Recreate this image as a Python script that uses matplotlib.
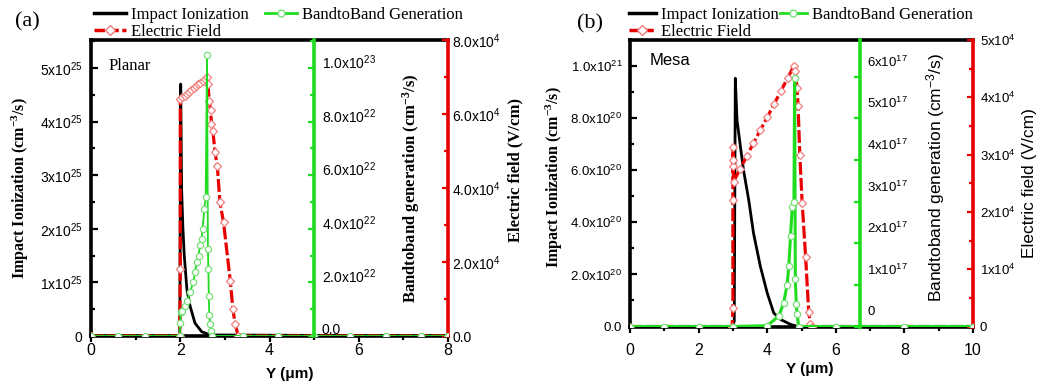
import numpy as np
import matplotlib
matplotlib.use("Agg")
import matplotlib.pyplot as plt
import matplotlib.transforms as mtransforms
from matplotlib.ticker import MultipleLocator
from matplotlib.lines import Line2D

plt.rcParams['mathtext.default'] = 'regular'
SERIF = 'Liberation Serif'
SANS = 'Liberation Sans'

GREEN = '#1fdc1f'
RED = '#e80000'
GREEN_MK = '#77e077'
RED_MK = '#f08080'

# ── Panel (a): Planar ────────────────────────────────────────────────────────
ii_a_x = [0, 1.99, 2.01, 2.03, 2.06, 2.09, 2.15, 2.22, 2.33, 2.48, 2.67, 8]
ii_a_y = np.array([0, 0, 4.7, 2.75, 2.0, 1.5, 0.86, 0.56, 0.24, 0.08, 0.02, 0]) * 1e25

btb_a_x = [0, 0.6, 1.2, 1.99, 2.0, 2.01, 2.03, 2.11, 2.15, 2.22, 2.29, 2.33, 2.37, 2.41,
           2.44, 2.48, 2.5, 2.54, 2.57, 2.6, 2.62, 2.63, 2.64, 2.65, 2.67, 2.69, 2.72,
           3.4, 4.2, 5.0, 5.8, 6.6, 7.4, 8.0]
btb_a_y = np.array([0, 0, 0, 0, 0.5, 0.9, 0.95, 1.13, 1.32, 1.63, 2.0, 2.38, 2.75, 3.0,
                    3.38, 3.63, 4.0, 4.75, 5.18, 10.5, 3.25, 2.5, 1.5, 0.8, 0.45, 0.2, 0.0,
                    0, 0, 0, 0, 0, 0, 0]) * 1e22

ef_a_x = [0, 1.99, 2.0, 2.0, 2.05, 2.1, 2.15, 2.2, 2.25, 2.3, 2.35, 2.4, 2.45, 2.5,
          2.55, 2.6, 2.62, 2.65, 2.68, 2.7, 2.73, 2.78, 2.83, 2.89, 2.97, 3.12, 3.18, 3.23,
          3.3, 8.0]
ef_a_y = np.array([0, 0, 1.81, 6.4, 6.45, 6.5, 6.55, 6.6, 6.65, 6.7, 6.75, 6.8, 6.85,
                   6.9, 6.95, 7.0, 6.81, 6.36, 6.1, 5.73, 5.55, 4.96, 4.6, 3.61, 3.07, 1.5,
                   0.73, 0.32, 0, 0]) * 1e4

# ── Panel (b): Mesa ──────────────────────────────────────────────────────────
ii_b_x = [0, 2.98, 3.04, 3.07, 3.12, 3.22, 3.31, 3.46, 3.6, 3.8, 4.0, 4.19, 4.39, 4.68, 4.9, 10]
ii_b_y = np.array([0, 0, 0.2, 9.53, 7.93, 6.9, 6.0, 4.87, 3.59, 2.31, 1.29, 0.52, 0.27,
                   0.08, 0, 0]) * 1e20

btb_b_x = [0, 1.0, 2.0, 3.0, 4.0, 4.34, 4.48, 4.58, 4.63, 4.68, 4.73, 4.78, 4.8, 4.82,
           4.85, 4.87, 4.92, 6.0, 8.0, 10.0]
btb_b_y = np.array([0, 0, 0, 0, 0.02, 0.25, 0.57, 1.0, 1.45, 2.17, 2.88, 3.0, 5.96, 1.13,
                    0.53, 0.3, 0, 0, 0, 0]) * 1e17

ef_b_x = [0, 2.98, 3.0, 3.0, 3.0, 3.0, 3.0, 3.02, 3.2, 3.4, 3.6, 3.8, 4.0, 4.2,
          4.4, 4.6, 4.78, 4.82, 4.87, 4.9, 4.95, 5.02, 5.12, 5.21, 5.26, 5.3, 10.0]
ef_b_y = np.array([0, 0, 0.32, 2.2, 2.8, 2.9, 3.13, 2.53, 2.74, 2.97, 3.2, 3.43,
                   3.65, 3.88, 4.11, 4.34, 4.55, 4.46, 4.17, 3.85, 3.0, 2.15, 1.22, 0.25,
                   0.05, 0, 0]) * 1e4

# ── Tick labels ──────────────────────────────────────────────────────────────
a_left_ticks = np.array([0, 1, 2, 3, 4, 5]) * 1e25
a_left_labels = ['0', '1x10$^{25}$', '2x10$^{25}$', '3x10$^{25}$', '4x10$^{25}$', '5x10$^{25}$']
a_green_ticks = np.array([0, 2, 4, 6, 8, 10]) * 1e22
a_green_labels = ['0.0', '2.0x10$^{22}$', '4.0x10$^{22}$', '6.0x10$^{22}$',
                  '8.0x10$^{22}$', '1.0x10$^{23}$']
a_red_ticks = np.array([0, 2, 4, 6, 8]) * 1e4
a_red_labels = ['0.0', '2.0x10$^4$', '4.0x10$^4$', '6.0x10$^4$', '8.0x10$^4$']

b_left_ticks = np.array([0, 2, 4, 6, 8, 10]) * 1e20
b_left_labels = ['0.0', '2.0x10$^{20}$', '4.0x10$^{20}$', '6.0x10$^{20}$',
                 '8.0x10$^{20}$', '1.0x10$^{21}$']
b_green_ticks = np.array([0, 1, 2, 3, 4, 5, 6]) * 1e17
b_green_labels = ['0', '1x10$^{17}$', '2x10$^{17}$', '3x10$^{17}$', '4x10$^{17}$',
                  '5x10$^{17}$', '6x10$^{17}$']
b_red_ticks = np.array([0, 1, 2, 3, 4, 5]) * 1e4
b_red_labels = ['0', '1x10$^4$', '2x10$^4$', '3x10$^4$', '4x10$^4$', '5x10$^4$']


def style_twin(tw, color, pos, size, pad):
    for s in ('left', 'top', 'bottom'):
        tw.spines[s].set_visible(False)
    tw.spines['right'].set_position(('axes', pos))
    tw.spines['right'].set_color(color)
    tw.spines['right'].set_linewidth(2.6)
    tw.tick_params(axis='y', which='both', direction='in', color=color,
                   labelcolor='black', labelsize=size, pad=pad, width=1.6)
    tw.tick_params(axis='y', which='major', length=4)
    tw.tick_params(axis='y', which='minor', length=3)
    for lab in tw.get_yticklabels():
        lab.set_family(SANS)


def shift_labels(fig, tw, dy_px):
    off = mtransforms.ScaledTranslation(0, dy_px / fig.dpi, fig.dpi_scale_trans)
    for t in tw.yaxis.get_major_ticks():
        t.label2.set_transform(t.label2.get_transform() + off)


def panel(fig, rect, xmax, green_pos, d, fonts):
    ax = fig.add_axes(rect)
    r = ax.twinx()
    g = ax.twinx()
    for s in ('left', 'bottom', 'top'):
        ax.spines[s].set_linewidth(2.6)
    ax.spines['right'].set_visible(False)

    ax.plot(d['ii_x'], d['ii_y'], color='black', lw=2.0, zorder=3)
    r.plot(d['ef_x'], d['ef_y'], color=RED, lw=2.3, dashes=(4, 1), marker='D', ms=4.5,
           mfc='white', mec=RED_MK, mew=0.9)
    g.plot(d['btb_x'], d['btb_y'], color=GREEN, lw=d['glw'], marker='o', ms=4.5,
           mfc='white', mec=GREEN_MK, mew=0.9)

    ax.set_xlim(0, xmax)
    ax.set_ylim(0, d['ymax'])
    g.set_ylim(0, d['gmax'])
    r.set_ylim(0, d['rmax'])

    ax.set_xticks(range(0, xmax + 1, 2))
    ax.xaxis.set_minor_locator(MultipleLocator(1))
    ax.tick_params(axis='x', which='both', direction='out', width=1.6,
                   labelsize=11.5, pad=d['xpad'])
    ax.tick_params(axis='x', which='major', length=4)
    ax.tick_params(axis='x', which='minor', length=3)
    ax.set_yticks(d['lt'], d['ll'])
    ax.yaxis.set_minor_locator(MultipleLocator(d['lt'][1] / 2))
    ax.tick_params(axis='y', which='both', direction='in', width=1.6,
                   labelsize=d['tsize'], pad=d['lpad'])
    ax.tick_params(axis='y', which='major', length=5)
    ax.tick_params(axis='y', which='minor', length=3)
    for lab in ax.get_xticklabels() + ax.get_yticklabels():
        lab.set_family(SANS)

    g.set_yticks(d['gt'], d['gl'])
    if d['gminor']:
        g.yaxis.set_minor_locator(MultipleLocator(d['gt'][1] / 2))
    r.set_yticks(d['rt'], d['rl'])
    r.yaxis.set_minor_locator(MultipleLocator(d['rt'][1] / 2))
    style_twin(g, GREEN, green_pos, d['tsize'], d['gpad'])
    style_twin(r, RED, 1.0, d['tsize'], d['rpad'])
    shift_labels(fig, g, d['gshift'])

    right_font, right_weight = fonts
    ax.set_ylabel('Impact Ionization (cm$^{-3}$/s)', family=SERIF, weight='bold',
                  fontsize=11.5)
    ax.yaxis.set_label_coords(*d['ylc'])
    g.set_ylabel('Bandtoband generation (cm$^{-3}$/s)', family=right_font,
                 weight=right_weight, fontsize=d['rsize'])
    g.yaxis.set_label_coords(*d['glc'])
    r.set_ylabel('Electric field (V/cm)', family=right_font, weight=right_weight,
                 fontsize=d['rsize'])
    r.yaxis.set_label_coords(*d['rlc'])
    ax.set_xlabel('Y (\u03bcm)', family=SANS, weight='bold', fontsize=11)
    ax.xaxis.set_label_coords(*d['xlc'])

    ax.text(*d['name_pos'], d['name'], transform=ax.transAxes, family=d['name_font'],
            fontsize=12, va='center', ha='left')
    fig.text(*d['tag_pos'], d['tag'], family=SERIF, fontsize=16, va='center', ha='left')

    handles = [Line2D([], [], color='black', lw=2.5),
               Line2D([], [], color=RED, lw=2.5, dashes=(3, 1), marker='D', ms=5,
                      mfc='white', mec=RED_MK),
               Line2D([], [], color=GREEN, lw=2.0, marker='o', ms=5, mfc='white',
                      mec=GREEN_MK)]
    fig.legend(handles, ['Impact Ionization', 'Electric Field', 'BandtoBand Generation'],
               loc='upper left', bbox_to_anchor=d['leg'], ncol=2, frameon=False,
               prop={'family': SERIF, 'size': 12}, borderpad=0, borderaxespad=0,
               handlelength=d['hlen'], handletextpad=0.3, labelspacing=0.05,
               columnspacing=d['colsp'])
    return ax


fig = plt.figure(figsize=(10.41, 3.92), dpi=100)
W, H = 1041, 392

panel(fig, [91 / W, 1 - 336 / H, 357 / W, 296 / H], 8, 5 / 8,
      dict(ii_x=ii_a_x, ii_y=ii_a_y, btb_x=btb_a_x, btb_y=btb_a_y, ef_x=ef_a_x, ef_y=ef_a_y,
           glw=1.3, ymax=5.52e25, gmax=1.105e23, rmax=8.0e4,
           lt=a_left_ticks, ll=a_left_labels, gt=a_green_ticks, gl=a_green_labels,
           rt=a_red_ticks, rl=a_red_labels, gminor=True,
           tsize=10, lpad=6, gpad=5.5, rpad=3, gshift=7, xpad=1,
           rsize=12, ylc=(-0.168, 0.5), glc=(0.866, 0.5), rlc=(1.165, 0.56),
           xlc=(0.557, -0.105),
           name='Planar', name_font=SERIF, name_pos=(0.048, 0.912),
           tag='(a)', tag_pos=(15 / W, 1 - 22 / H),
           leg=(94 / W, 1 - 7 / H), hlen=1.9, colsp=1.0),
      (SERIF, 'bold'))

panel(fig, [630 / W, 1 - 326.5 / H, 343 / W, 286.5 / H], 10, 0.672,
      dict(ii_x=ii_b_x, ii_y=ii_b_y, btb_x=btb_b_x, btb_y=btb_b_y, ef_x=ef_b_x, ef_y=ef_b_y,
           glw=2.2, ymax=1.1e21, gmax=6.88e17, rmax=5.0e4,
           lt=b_left_ticks, ll=b_left_labels, gt=b_green_ticks, gl=b_green_labels,
           rt=b_red_ticks, rl=b_red_labels, gminor=False,
           tsize=9.5, lpad=5.5, gpad=5, rpad=5, gshift=16, xpad=8,
           rsize=12.5, ylc=(-0.19, 0.52), glc=(0.857, 0.52), rlc=(1.143, 0.5),
           xlc=(0.525, -0.125),
           name='Mesa', name_font=SANS, name_pos=(0.058, 0.93),
           tag='(b)', tag_pos=(577 / W, 1 - 24 / H),
           leg=(629 / W, 1 - 7 / H), hlen=1.6, colsp=0.1),
      (SANS, 'normal'))

fig.savefig('out.png', dpi=100)
